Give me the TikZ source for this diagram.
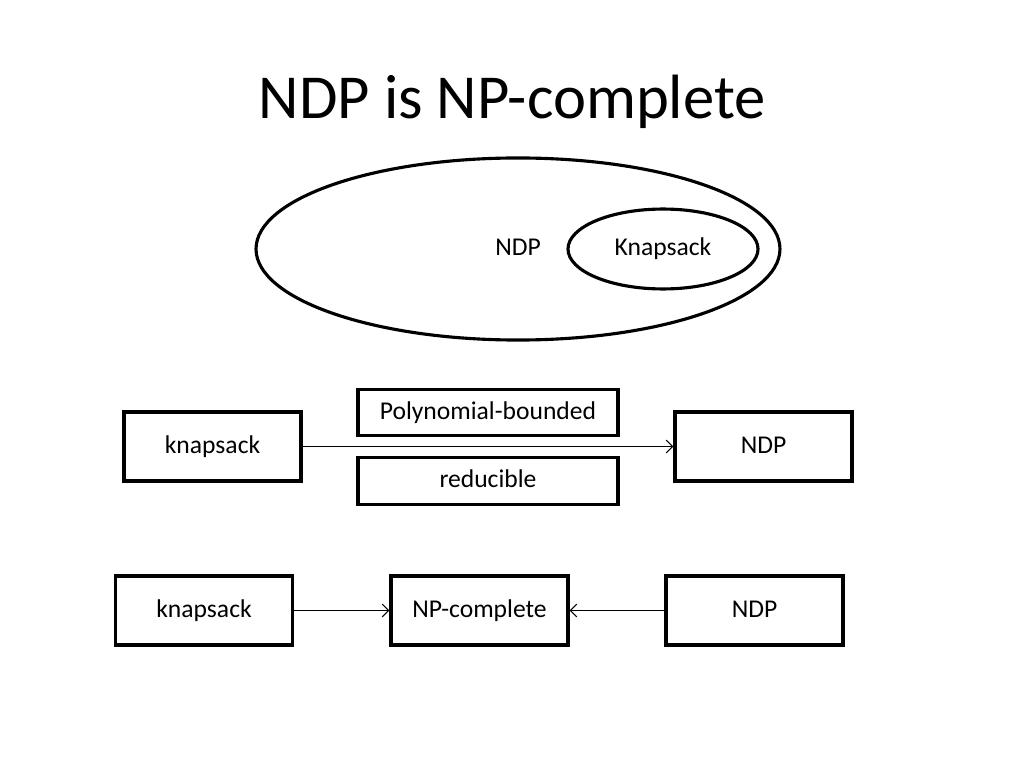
\documentclass[tikz,border=0pt]{standalone}
\usepackage{fontspec}
\setmainfont{Carlito}
\usetikzlibrary{shapes.geometric,arrows.meta}

\begin{document}
\begin{tikzpicture}[x=0.703125pt, y=-0.703125pt, every node/.style={font=\fontsize{18}{22}\selectfont, text height=14pt, text depth=4.5pt}, box/.style={shape=rectangle, draw, line width=2.2pt, minimum width=124.5pt, minimum height=48.5pt}, label box/.style={box, minimum width=182.8pt, minimum height=32.7pt}, oval/.style={shape=ellipse, draw, line width=2.2pt}, link/.style={-{Straight Barb[length=4.5pt, width=9pt]}, line width=0.8pt}]
	\useasboundingbox (0,0) rectangle (1024,768);
	\node[font=\fontsize{44}{52}\selectfont, text height=38.3pt, text depth=9.7pt] (title) at (512,98) {NDP is NP-complete};
	% ellipses
	\node[oval, minimum width=368.4pt, minimum height=128pt] (NDP set) at (518,249) {};
	\node[oval, minimum width=133.6pt, minimum height=56.2pt] (Knapsack set) at (663,249) {Knapsack};
	\node (NDP label) at (518,249) {NDP};
	% first row
	\node[box] (knapsack 1) at (212.5,446.5) {knapsack};
	\node[box] (NDP 1) at (763.5,446.5) {NDP};
	\node[label box] (poly) at (488,412.5) {Polynomial-bounded};
	\node[label box] (reducible) at (488,481) {reducible};
	\draw[link] (knapsack 1) -- (NDP 1);
	% second row
	\node[box] (knapsack 2) at (204,610.5) {knapsack};
	\node[box] (NP-complete) at (479.5,610.5) {NP-complete};
	\node[box] (NDP 2) at (754.5,610.5) {NDP};
	\draw[link] (knapsack 2) -- (NP-complete);
	\draw[link] (NDP 2) -- (NP-complete);
\end{tikzpicture}
\end{document}
